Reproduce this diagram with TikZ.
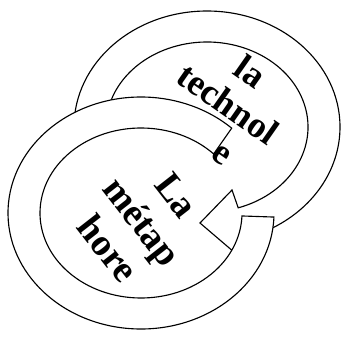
\documentclass[tikz,border=0pt]{standalone}
\usepackage{fontspec}
\setmainfont{Liberation Serif}
\usetikzlibrary{calc}

\begin{document}
\begin{tikzpicture}[x=0.025cm, y=0.025cm, every node/.style={align=center, inner sep=0pt}]
        \tikzstyle{ring} = [draw=black, line width=0.8pt, fill=white, line join=miter]
        \tikzstyle{ringtext} = [font=\fontsize{26}{28}\selectfont\bfseries]
        \useasboundingbox (0,0) rectangle (342,338);

        % upper ring with its arrow head
        \coordinate (upper) at (207,211);
        \draw[ring] ($(upper)+(180:133 and 116)$) arc[start angle=180, end angle=-62, x radius=133, y radius=116]
            -- (255,68) -- (200,115) -- (232,148) -- ($(upper)+(-72:101 and 85)$)
            arc[start angle=-72, end angle=180, x radius=101, y radius=85] -- cycle;
        \node[ringtext, rotate=-35] (techno) at (225,230) {la\\technol\\[2pt]\phantom{ogi}e};

        % lower ring, flat ends
        \coordinate (lower) at (141,125);
        \draw[ring] ($(lower)+(-2:133 and 116)$) arc[start angle=-2, end angle=-313, x radius=133, y radius=116]
            -- ($(lower)+(-316:101 and 85)$) arc[start angle=-316, end angle=-2, x radius=101, y radius=85] -- cycle;
        \node[ringtext, rotate=-52, font=\fontsize{27}{31}\selectfont\bfseries] (metaphore) at (142,116) {La\\métap\\hore};
\end{tikzpicture}
\end{document}
